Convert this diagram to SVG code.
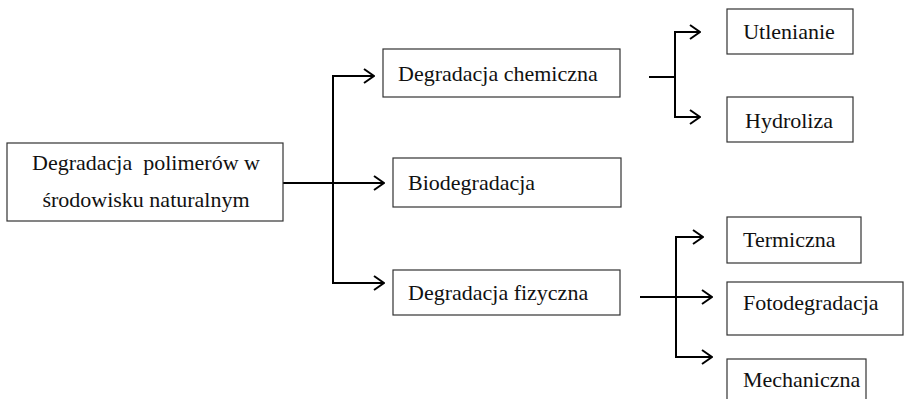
<svg xmlns="http://www.w3.org/2000/svg" width="904" height="399" viewBox="0 0 904 399">
<defs>
<marker id="ah" viewBox="0 0 12 16" refX="11" refY="8" markerWidth="12" markerHeight="16" markerUnits="userSpaceOnUse" orient="auto">
<path d="M1,1 L11,8 L1,15" fill="none" stroke="#000" stroke-width="2"/>
</marker>
<style>
.box{fill:#fff;stroke:#333;stroke-width:1.2}
.t{font-family:"Liberation Serif","Times New Roman",serif;font-size:22px;fill:#111;white-space:pre}
.c{fill:none;stroke:#000;stroke-width:2}
</style>
</defs>
<rect width="904" height="399" fill="#fff"/>
<g id="connectors">
<line class="c" x1="333" y1="75" x2="333" y2="284"/>
<path class="c" d="M333,76 H374" marker-end="url(#ah)"/>
<path class="c" d="M283,183 H384" marker-end="url(#ah)"/>
<path class="c" d="M333,283 H384" marker-end="url(#ah)"/>
<path class="c" d="M649,77 H675"/>
<line class="c" x1="675" y1="31" x2="675" y2="118"/>
<path class="c" d="M675,32 H700" marker-end="url(#ah)"/>
<path class="c" d="M675,117 H700" marker-end="url(#ah)"/>
<path class="c" d="M640,297 H712" marker-end="url(#ah)"/>
<line class="c" x1="676" y1="236" x2="676" y2="358"/>
<path class="c" d="M676,237 H703" marker-end="url(#ah)"/>
<path class="c" d="M676,357 H712" marker-end="url(#ah)"/>
</g>
<g id="n-main">
<rect class="box" x="7" y="143" width="276" height="78"/>
<text class="t" x="146" y="170" text-anchor="middle" xml:space="preserve">Degradacja  polimerów w</text>
<text class="t" x="146" y="207" text-anchor="middle">środowisku naturalnym</text>
</g>
<g id="n-chem">
<rect class="box" x="383" y="49" width="237" height="48"/>
<text class="t" x="398" y="81">Degradacja chemiczna</text>
</g>
<g id="n-bio">
<rect class="box" x="393" y="158" width="228" height="49"/>
<text class="t" x="408" y="190">Biodegradacja</text>
</g>
<g id="n-fiz">
<rect class="box" x="393" y="270" width="227" height="45"/>
<text class="t" x="408" y="300">Degradacja fizyczna</text>
</g>
<g id="n-utl">
<rect class="box" x="727" y="9" width="126" height="45"/>
<text class="t" x="789" y="39" text-anchor="middle">Utlenianie</text>
</g>
<g id="n-hyd">
<rect class="box" x="727" y="97" width="126" height="45"/>
<text class="t" x="789" y="128" text-anchor="middle">Hydroliza</text>
</g>
<g id="n-term">
<rect class="box" x="727" y="217" width="134" height="46"/>
<text class="t" x="743" y="247">Termiczna</text>
</g>
<g id="n-foto">
<rect class="box" x="727" y="282" width="176" height="53"/>
<text class="t" x="743" y="310">Fotodegradacja</text>
</g>
<g id="n-mech">
<rect class="box" x="727" y="359" width="139" height="45"/>
<text class="t" x="743" y="387">Mechaniczna</text>
</g>
</svg>
